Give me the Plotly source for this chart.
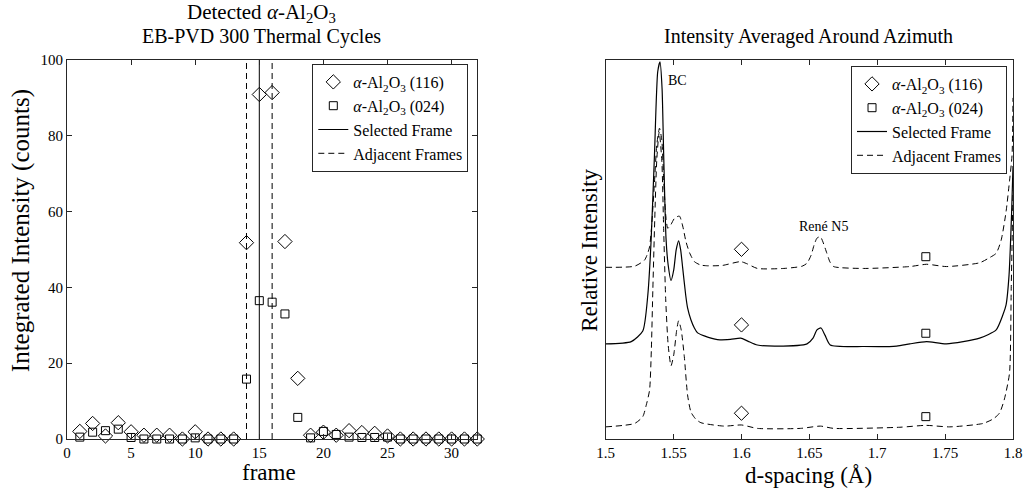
import plotly.graph_objects as go

# ---------------- data: left panel ----------------
frames = list(range(1, 33))
al116 = [2.0, 4.1, 0.8, 4.3, 1.9, 1.0, 1.0, 1.0, 0.0, 1.9, 0.0, 0.0, 0.0, 51.8, 90.9, 91.4,
         52.1, 16.0, 1.0, 1.8, 1.0, 2.2, 1.7, 1.5, 0.8, 0.0, 0.0, 0.0, 0.0, 0.0, 0.0, 0.0]
al024 = [0.5, 1.8, 2.2, 2.6, 0.4, 0.0, 0.0, 0.0, 0.0, 0.3, 0.0, 0.0, 0.0, 15.8, 36.5, 36.1,
         33.0, 5.7, 0.3, 2.0, 1.2, 0.5, 0.4, 0.4, 0.5, 0.0, 0.0, 0.0, 0.0, 0.0, 0.0, 0.0]
selected_frame = 15
adjacent_frames = [14, 16]
left_xticks = [0, 5, 10, 15, 20, 25, 30]
left_yticks = [0, 20, 40, 60, 80, 100]

# ---------------- data: right panel ----------------
sel_d = [1.5000, 1.5188, 1.5273, 1.5310, 1.5334, 1.5359, 1.5383, 1.5400, 1.5415, 1.5427, 1.5444,
         1.5460, 1.5481, 1.5501, 1.5519, 1.5537, 1.5552, 1.5567, 1.5589, 1.5603, 1.5628, 1.5653,
         1.5677, 1.5726, 1.5823, 1.5919, 1.5994, 1.6043, 1.6117, 1.6263, 1.6483, 1.6527, 1.6556,
         1.6586, 1.6615, 1.6654, 1.6899, 1.7143, 1.7240, 1.7363, 1.7510, 1.7754, 1.7876, 1.7925,
         1.7949, 1.7971, 1.7990, 1.8000]
sel_I = [0.251, 0.257, 0.285, 0.380, 0.521, 0.749, 0.969, 0.995, 0.925, 0.749, 0.530,
         0.459, 0.418, 0.446, 0.499, 0.523, 0.499, 0.451, 0.380, 0.346, 0.314, 0.293,
         0.280, 0.272, 0.262, 0.263, 0.266, 0.259, 0.248, 0.245, 0.251, 0.266, 0.288,
         0.293, 0.274, 0.248, 0.244, 0.245, 0.251, 0.257, 0.251, 0.266, 0.288, 0.327,
         0.354, 0.433, 0.600, 0.720]

hi_d = [1.5000, 1.5213, 1.5286, 1.5310, 1.5323, 1.5339, 1.5358, 1.5376, 1.5396, 1.5413, 1.5427,
        1.5442, 1.5457, 1.5479, 1.5508, 1.5543, 1.5567, 1.5591, 1.5618, 1.5653, 1.5699, 1.5750,
        1.5860, 1.5994, 1.6043, 1.6117, 1.6312, 1.6447, 1.6483, 1.6513, 1.6535, 1.6556, 1.6581,
        1.6600, 1.6629, 1.6652, 1.6679, 1.6899, 1.7240, 1.7363, 1.7510, 1.7754, 1.7825, 1.7876,
        1.7913, 1.7949, 1.7975, 1.7993, 1.8000]
hi_I = [0.453, 0.456, 0.472, 0.491, 0.507, 0.565, 0.670, 0.776, 0.820, 0.789, 0.683,
        0.591, 0.556, 0.565, 0.583, 0.588, 0.562, 0.521, 0.491, 0.468, 0.459, 0.457,
        0.458, 0.468, 0.462, 0.450, 0.450, 0.456, 0.464, 0.485, 0.512, 0.530, 0.534,
        0.520, 0.490, 0.467, 0.455, 0.450, 0.455, 0.461, 0.455, 0.465, 0.478, 0.490,
        0.525, 0.600, 0.683, 0.749, 0.900]

lo_d = [1.5000, 1.5213, 1.5273, 1.5299, 1.5323, 1.5336, 1.5347, 1.5361, 1.5376, 1.5394, 1.5413,
        1.5427, 1.5442, 1.5460, 1.5481, 1.5501, 1.5523, 1.5537, 1.5556, 1.5579, 1.5603, 1.5628,
        1.5662, 1.5701, 1.5872, 1.6001, 1.6117, 1.6434, 1.6581, 1.6679, 1.7167, 1.7358, 1.7534,
        1.7779, 1.7854, 1.7900, 1.7935, 1.7974, 1.7987, 1.8000]
lo_I = [0.032, 0.041, 0.059, 0.090, 0.129, 0.235, 0.393, 0.578, 0.736, 0.810, 0.736,
        0.551, 0.367, 0.248, 0.193, 0.222, 0.288, 0.312, 0.288, 0.217, 0.116, 0.071,
        0.053, 0.043, 0.034, 0.037, 0.028, 0.028, 0.034, 0.028, 0.031, 0.036, 0.032,
        0.041, 0.053, 0.068, 0.103, 0.173, 0.398, 0.657]

m116_d = [1.6, 1.6, 1.6]
m116_I = [0.5005, 0.301, 0.068]
m024_d = [1.7358, 1.7358, 1.7358]
m024_I = [0.481, 0.279, 0.059]
right_xticks = [1.5, 1.55, 1.6, 1.65, 1.7, 1.75, 1.8]
right_xlabels = ["1.5", "1.55", "1.6", "1.65", "1.7", "1.75", "1.8"]

# ---------------- layout geometry ----------------
W, H = 1034, 497
L, R, T, B = 67, 17, 60, 58
PW, PH = W - L - R, H - T - B


def px_x(px):
    return (px - L) / PW


def px_y(py):
    return (T + PH - py) / PH


FONT = "Liberation Serif"
AX = "#262626"
DASH = "6px,4px"

name116 = "<i>α</i>-Al<sub>2</sub>O<sub>3</sub> (116)"
name024 = "<i>α</i>-Al<sub>2</sub>O<sub>3</sub> (024)"

fig = go.Figure()

# left panel
fig.add_trace(go.Scatter(x=frames, y=al116, mode="markers", name=name116,
                         marker=dict(symbol="diamond-open", size=11, color="black",
                                     line=dict(width=1, color="black")),
                         cliponaxis=False, xaxis="x", yaxis="y", legend="legend"))
fig.add_trace(go.Scatter(x=frames, y=al024, mode="markers", name=name024,
                         marker=dict(symbol="square-open", size=8, color="black",
                                     line=dict(width=1, color="black")),
                         cliponaxis=False, xaxis="x", yaxis="y", legend="legend"))
fig.add_trace(go.Scatter(x=[selected_frame, selected_frame], y=[left_yticks[0], left_yticks[-1]],
                         mode="lines", name="Selected Frame",
                         line=dict(color="black", width=1),
                         xaxis="x", yaxis="y", legend="legend"))
for i, f in enumerate(adjacent_frames):
    fig.add_trace(go.Scatter(x=[f, f], y=[left_yticks[0], left_yticks[-1]],
                             mode="lines", name="Adjacent Frames", showlegend=(i == 0),
                             line=dict(color="black", width=1, dash=DASH),
                             xaxis="x", yaxis="y", legend="legend"))

# right panel
fig.add_trace(go.Scatter(x=m116_d, y=m116_I, mode="markers", name=name116,
                         marker=dict(symbol="diamond-open", size=11, color="black",
                                     line=dict(width=1, color="black")),
                         xaxis="x2", yaxis="y2", legend="legend2"))
fig.add_trace(go.Scatter(x=m024_d, y=m024_I, mode="markers", name=name024,
                         marker=dict(symbol="square-open", size=8, color="black",
                                     line=dict(width=1, color="black")),
                         xaxis="x2", yaxis="y2", legend="legend2"))
fig.add_trace(go.Scatter(x=sel_d, y=sel_I, mode="lines", name="Selected Frame",
                         line=dict(color="black", width=1.2, shape="spline", smoothing=0.6),
                         xaxis="x2", yaxis="y2", legend="legend2"))
fig.add_trace(go.Scatter(x=hi_d, y=hi_I, mode="lines", name="Adjacent Frames",
                         line=dict(color="black", width=1, dash=DASH, shape="spline", smoothing=0.6),
                         xaxis="x2", yaxis="y2", legend="legend2"))
fig.add_trace(go.Scatter(x=lo_d, y=lo_I, mode="lines", name="Adjacent Frames", showlegend=False,
                         line=dict(color="black", width=1, dash=DASH, shape="spline", smoothing=0.6),
                         xaxis="x2", yaxis="y2", legend="legend2"))

axis_common = dict(showline=True, linecolor=AX, linewidth=1, mirror="ticks",
                   ticks="inside", ticklen=5, tickcolor=AX, showgrid=False, zeroline=False,
                   tickfont=dict(family=FONT, size=15, color="black"))

legend_common = dict(bgcolor="white", bordercolor=AX, borderwidth=1,
                     font=dict(family=FONT, size=16, color="black"),
                     xanchor="right", yanchor="top", tracegroupgap=0,
                     itemwidth=30)

fig.update_layout(
    width=W, height=H,
    margin=dict(l=L, r=R, t=T, b=B),
    paper_bgcolor="white", plot_bgcolor="white",
    font=dict(family=FONT, color="black"),
    xaxis=dict(domain=[0, px_x(479)], range=[0, 32], tickvals=left_xticks, **axis_common),
    yaxis=dict(domain=[0, 1], range=[0, 100], tickvals=left_yticks, **axis_common),
    xaxis2=dict(domain=[px_x(608), 1], range=[1.5, 1.8], tickvals=right_xticks,
                ticktext=right_xlabels, anchor="y2", **axis_common),
    yaxis2=dict(domain=[0, 1], range=[0, 1], anchor="x2", showline=True, linecolor=AX,
                linewidth=1, mirror=True, ticks="", showticklabels=False,
                showgrid=False, zeroline=False),
    legend=dict(x=px_x(470), y=px_y(64), **legend_common),
    legend2=dict(x=px_x(1011), y=px_y(66), **legend_common),
    showlegend=True,
)

ann = [
    dict(text="Detected <i>α</i>-Al<sub>2</sub>O<sub>3</sub>", x=px_x(262), y=px_y(13), size=21),
    dict(text="EB-PVD 300 Thermal Cycles", x=px_x(262), y=px_y(36), size=20),
    dict(text="Intensity Averaged Around Azimuth", x=px_x(812), y=px_y(36), size=20),
    dict(text="frame", x=px_x(270), y=px_y(472), size=23),
    dict(text="d-spacing (Å)", x=px_x(812), y=px_y(475), size=23),
    dict(text="Integrated Intensity (counts)", x=px_x(21), y=px_y(231), size=25, angle=-90),
    dict(text="Relative Intensity", x=px_x(591), y=px_y(250), size=23, angle=-90),
]
for a in ann:
    fig.add_annotation(text=a["text"], x=a["x"], y=a["y"], xref="paper", yref="paper",
                       showarrow=False, xanchor="center", yanchor="middle",
                       textangle=a.get("angle", 0),
                       font=dict(family=FONT, size=a["size"], color="black"))

fig.add_annotation(text="BC", x=1.5530, y=0.945, xref="x2", yref="y2", showarrow=False,
                   xanchor="center", yanchor="middle", font=dict(family=FONT, size=14, color="black"))
fig.add_annotation(text="René N5", x=1.6604, y=0.562, xref="x2", yref="y2", showarrow=False,
                   xanchor="center", yanchor="middle", font=dict(family=FONT, size=14, color="black"))

fig.write_html("out.html", config={"displayModeBar": False},
               post_script="document.body.style.margin='0';document.body.style.overflow='hidden';")
